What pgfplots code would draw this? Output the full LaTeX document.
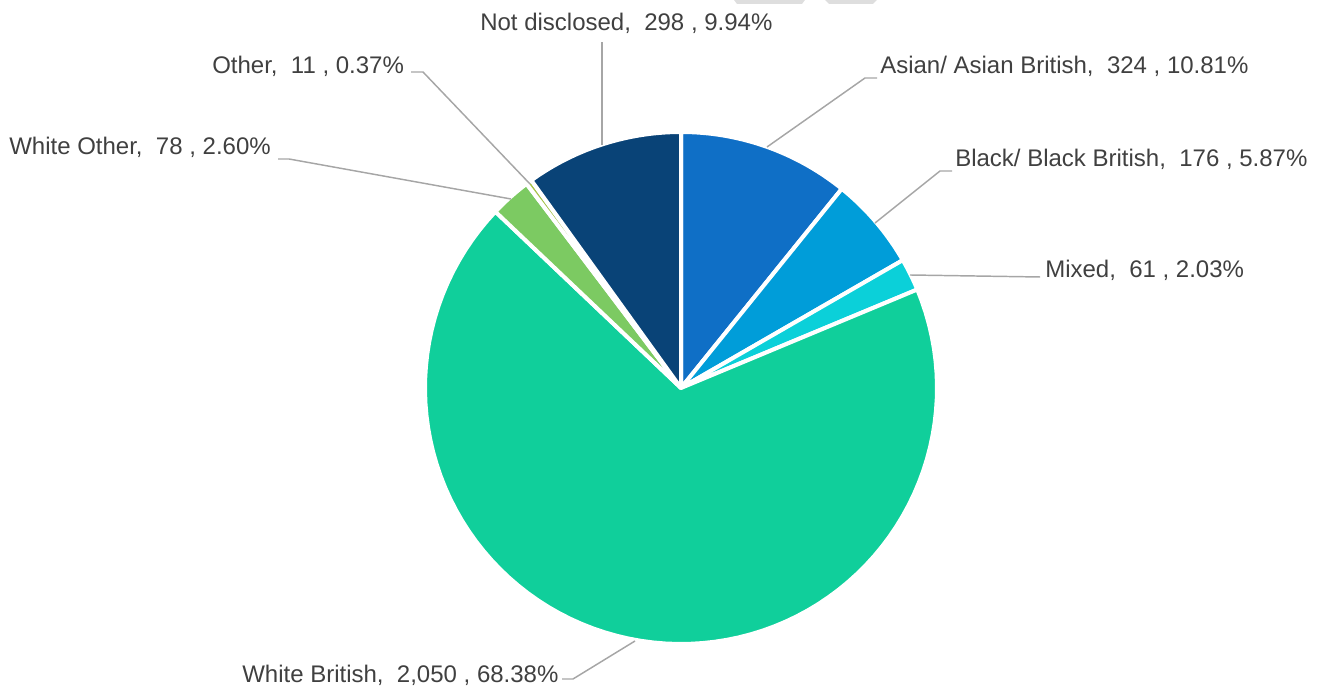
\documentclass[border=0pt]{standalone}
\usepackage{fontspec}
\setmainfont{Liberation Sans}
\usepackage{pgfplots}
\usepackage{pgfplotstable}
\pgfplotsset{compat=1.18}

\definecolor{c1}{HTML}{0F6FC6}
\definecolor{c2}{HTML}{009DD9}
\definecolor{c3}{HTML}{0BD0D9}
\definecolor{c4}{HTML}{10CF9B}
\definecolor{c5}{HTML}{7CCA62}
\definecolor{c6}{HTML}{A5C249}
\definecolor{c7}{HTML}{094377}
\definecolor{lbl}{HTML}{404040}
\definecolor{lead}{HTML}{A6A6A6}

% slices clockwise from 12 o'clock
\pgfplotstableread{
name count color
Asian 324 c1
Black 176 c2
Mixed 61 c3
WhiteBritish 2050 c4
WhiteOther 78 c5
Other 11 c6
NotDisclosed 298 c7
}\data
\pgfplotstablecreatecol[create col/expr accum={\pgfmathaccuma + \thisrow{count}}{0}]{cum}{\data}

\begin{document}
\begin{tikzpicture}[
    lab/.style={anchor=base west, inner sep=0pt, text=lbl, font=\fontsize{18}{21}\selectfont},
    leader/.style={draw=lead, line width=1.1pt},
  ]
\begin{axis}[
    scale only axis,
    width=991.5pt, height=516pt,
    xmin=0, xmax=1322, ymin=0, ymax=688,
    axis lines=none,
    clip=false,
  ]
  \path (axis cs:0,0) rectangle (axis cs:1322,688);
  \pgfplotstablegetelem{6}{cum}\of\data \let\total\pgfplotsretval
  \pgfplotsforeachungrouped \i in {0,...,6}{
    \pgfplotstablegetelem{\i}{count}\of\data \let\cnt\pgfplotsretval
    \pgfplotstablegetelem{\i}{cum}\of\data \let\cumv\pgfplotsretval
    \pgfplotstablegetelem{\i}{color}\of\data \let\col\pgfplotsretval
    \pgfmathsetmacro\aend{90-(\cumv/\total)*360}
    \pgfmathsetmacro\astart{90-((\cumv-\cnt)/\total)*360}
    \edef\cmd{\noexpand\addplot[fill=\col, draw=white, line width=3pt, line join=round,
      domain=\aend:\astart, samples=90, variable=\noexpand\t]
      ({681+256*cos(\noexpand\t)},{300+256*sin(\noexpand\t)}) -- (axis cs:681,300) -- cycle;}
    \cmd
  }

  % faint marks at the top edge
  \fill[black!13] (axis cs:734,688) -- (axis cs:805,688) -- (axis cs:802,684) -- (axis cs:737,684) -- cycle;
  \fill[black!13] (axis cs:825,688) -- (axis cs:877,688) -- (axis cs:873,684) -- (axis cs:829,684) -- cycle;

  % leader lines
  \draw[leader] (axis cs:602,543) -- (axis cs:602,646);
  \draw[leader] (axis cs:767,541) -- (axis cs:865,610) -- (axis cs:877,610);
  \draw[leader] (axis cs:875,465) -- (axis cs:940,517) -- (axis cs:952,517);
  \draw[leader] (axis cs:910,413) -- (axis cs:1040,411);
  \draw[leader] (axis cs:530,504) -- (axis cs:423,616) -- (axis cs:411,616);
  \draw[leader] (axis cs:511,489) -- (axis cs:289,529) -- (axis cs:278,529);
  \draw[leader] (axis cs:635,47) -- (axis cs:573,9) -- (axis cs:562,9);

  % labels
  \node[lab] at (axis cs:480,657) {Not disclosed,\ \ 298 , 9.94\%};
  \node[lab] at (axis cs:880,614) {Asian/ Asian British,\ \ 324 , 10.81\%};
  \node[lab] at (axis cs:955,521) {Black/ Black British,\ \ 176 , 5.87\%};
  \node[lab] at (axis cs:1045,410) {Mixed,\ \ 61 , 2.03\%};
  \node[lab] at (axis cs:212,614.5) {Other,\ \ 11 , 0.37\%};
  \node[lab] at (axis cs:9,533.5) {White Other,\ \ 78 , 2.60\%};
  \node[lab] at (axis cs:242,5) {White British,\ \ 2,050 , 68.38\%};
\end{axis}
\end{tikzpicture}
\end{document}
